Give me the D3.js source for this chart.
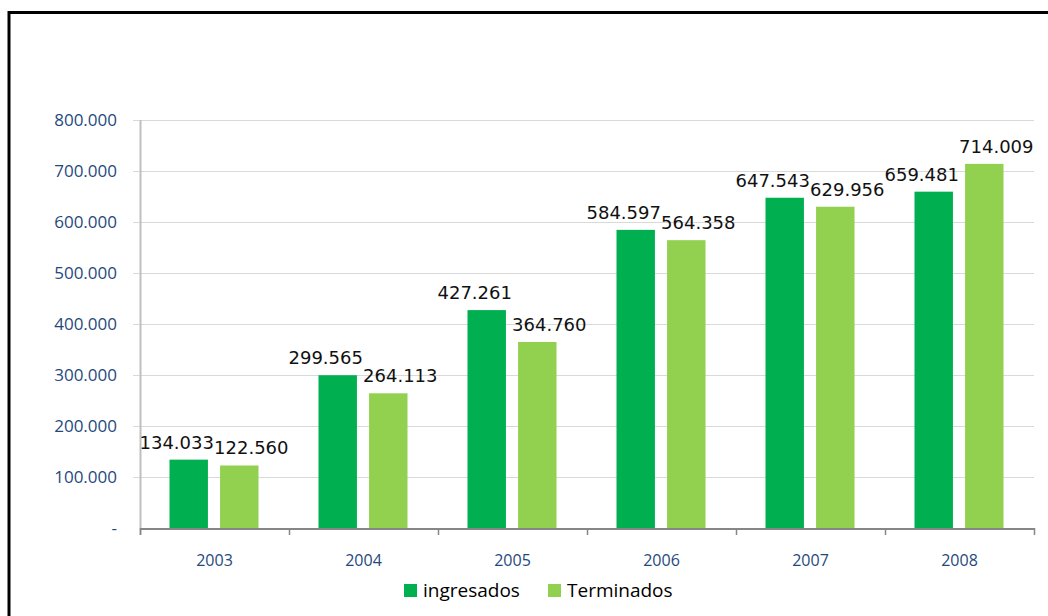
<!DOCTYPE html>
<html>
<head>
<meta charset="utf-8">
<script src="https://cdn.jsdelivr.net/npm/d3@7"></script>
<style>
  body { margin: 0; background: #fff; }
  svg { display: block; }
</style>
</head>
<body>
<div id="canvas"></div>
<script>
// data
var years = ['2003', '2004', '2005', '2006', '2007', '2008'];
var ingresados = [134033, 299565, 427261, 584597, 647543, 659481];
var terminados = [122560, 264113, 364760, 564358, 629956, 714009];
var seriesNames = ['ingresados', 'Terminados'];
var yTicks = [0, 100000, 200000, 300000, 400000, 500000, 600000, 700000, 800000];

var W = 1048, H = 616;
var m = {t:120, r:14, b:88, l:140},
    w = W - m.l - m.r,
    h = H - m.t - m.b;

var colors = ['#00b050', '#92d050'];
var labelShift = [-12, 12]; // nudge value labels apart so they don't collide
var fmt = d3.formatLocale({decimal: ',', thousands: '.', grouping: [3], currency: ['', '']}).format(',d');

var svg = d3.select('#canvas').append('svg')
    .attr('width', W).attr('height', H);

// outer frame (only top and left edges visible)
svg.append('rect')
    .attr('x', 9).attr('y', 12.5)
    .attr('width', W + 20).attr('height', H + 20)
    .attr('fill', 'none').attr('stroke', '#000').attr('stroke-width', 3);

var plot = svg.append('g').attr('transform', 'translate(' + m.l + ',' + m.t + ')');

var x0 = d3.scaleBand().domain(years).range([0, w]).paddingInner(0).paddingOuter(0);
var x1 = d3.scaleBand().domain(seriesNames).range([29.5, x0.bandwidth() - 30.5]).paddingInner(0.24);
var y = d3.scaleLinear().domain([0, 800000]).range([h, 0]);

// gridlines
plot.selectAll('.grid').data(yTicks.slice(1)).enter()
    .append('line').attr('class', 'grid')
    .attr('x1', -7).attr('x2', w)
    .attr('y1', function(d){ return Math.round(y(d)) + 0.5; })
    .attr('y2', function(d){ return Math.round(y(d)) + 0.5; })
    .attr('stroke', '#d9d9d9').attr('stroke-width', 1);

// y axis
plot.append('line')
    .attr('x1', 0.5).attr('x2', 0.5).attr('y1', 0).attr('y2', h + 7)
    .attr('stroke', '#bfbfbf').attr('stroke-width', 2);

plot.selectAll('.ylab').data(yTicks).enter()
    .append('text').attr('class', 'ylab')
    .attr('x', -23).attr('y', function(d){ return y(d) + 6; })
    .attr('text-anchor', 'end')
    .style('font-family', '"Open Sans", sans-serif').style('font-size', '17px')
    .style('fill', '#1f497d')
    .text(function(d){ return d === 0 ? '-' : fmt(d); });

// bars
var groups = plot.selectAll('.year').data(years).enter()
    .append('g').attr('class', 'year')
    .attr('transform', function(d){ return 'translate(' + x0(d) + ',0)'; });

var rows = [ingresados, terminados];

groups.each(function(yr, i){
    var g = d3.select(this);
    seriesNames.forEach(function(s, j){
        var v = rows[j][i];
        g.append('rect')
            .attr('x', x1(s)).attr('width', x1.bandwidth())
            .attr('y', y(v)).attr('height', h - y(v))
            .attr('fill', colors[j]);
        g.append('text')
            .attr('x', x1(s) + x1.bandwidth() / 2 + labelShift[j])
            .attr('y', y(v) - 11)
            .attr('text-anchor', 'middle')
            .style('font-family', '"DejaVu Sans", sans-serif').style('font-size', '18px')
            .style('fill', '#111')
            .text(fmt(v));
    });
});

// x axis
plot.append('line')
    .attr('x1', 0).attr('x2', w).attr('y1', h + 1).attr('y2', h + 1)
    .attr('stroke', '#868686').attr('stroke-width', 2);

plot.selectAll('.xtick').data(d3.range(years.length + 1)).enter()
    .append('line').attr('class', 'xtick')
    .attr('x1', function(d){ return d * x0.bandwidth() + 0.5; })
    .attr('x2', function(d){ return d * x0.bandwidth() + 0.5; })
    .attr('y1', h).attr('y2', h + 7)
    .attr('stroke', '#868686').attr('stroke-width', 1.5);

plot.selectAll('.xlab').data(years).enter()
    .append('text').attr('class', 'xlab')
    .attr('x', function(d){ return x0(d) + x0.bandwidth() / 2; })
    .attr('y', h + 38)
    .attr('text-anchor', 'middle')
    .style('font-family', '"Open Sans", sans-serif').style('font-size', '16px')
    .style('fill', '#1f497d')
    .text(function(d){ return d; });

// legend
var legendX = [404, 548];
var legend = svg.selectAll('.legend').data(seriesNames).enter()
    .append('g').attr('class', 'legend')
    .attr('transform', function(d, i){ return 'translate(' + legendX[i] + ',584)'; });

legend.append('rect')
    .attr('width', 13).attr('height', 13)
    .attr('fill', function(d, i){ return colors[i]; });

legend.append('text')
    .attr('x', 19).attr('y', 13)
    .style('font-family', '"Open Sans", sans-serif').style('font-size', '19px')
    .style('fill', '#000')
    .text(function(d){ return d; });
</script>
</body>
</html>
